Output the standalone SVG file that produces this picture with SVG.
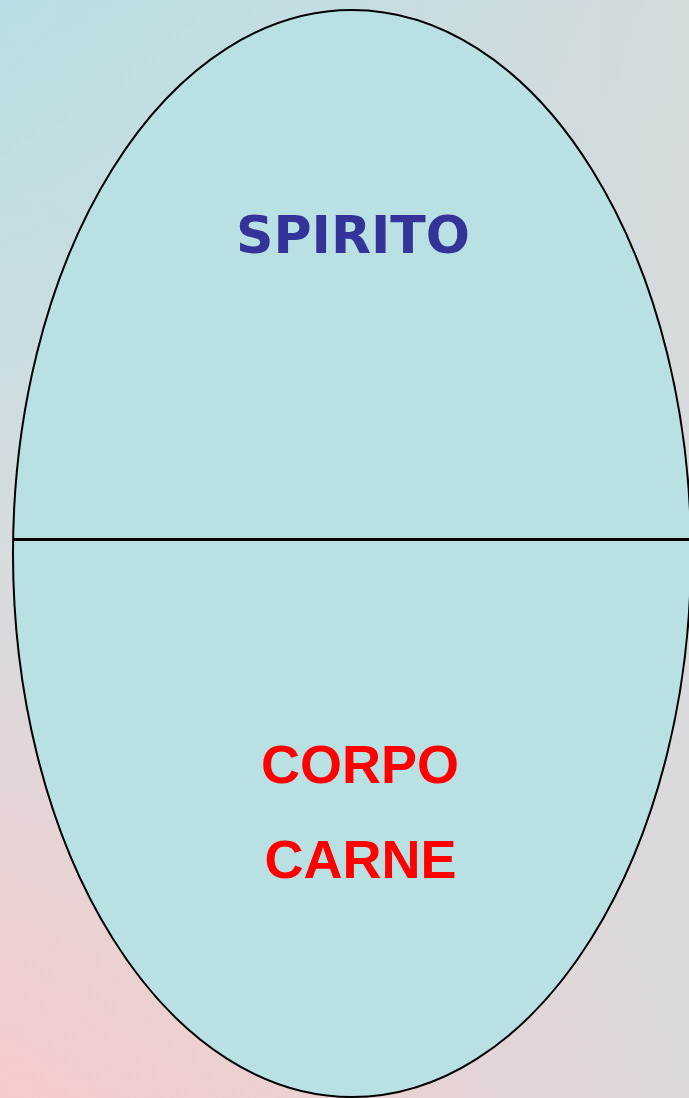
<svg xmlns="http://www.w3.org/2000/svg" width="689" height="1098" viewBox="0 0 689 1098">
  <defs>
    <linearGradient id="bgv" x1="0" y1="0" x2="0" y2="1098" gradientUnits="userSpaceOnUse">
      <stop offset="0" stop-color="#b8dfe3"/>
      <stop offset="0.5" stop-color="#d6dcdf"/>
      <stop offset="1" stop-color="#f7cbcb"/>
    </linearGradient>
    <linearGradient id="bgh" x1="0" y1="0" x2="689" y2="0" gradientUnits="userSpaceOnUse">
      <stop offset="0" stop-color="#d8dadc" stop-opacity="0"/>
      <stop offset="1" stop-color="#d8dadc" stop-opacity="0.85"/>
    </linearGradient>
  </defs>
  <style>
    .shape { fill: #b9e0e3; stroke: #000; stroke-width: 2; }
    .div { stroke: #000; stroke-width: 3; }
    .spirit { font-family: "Comic Sans MS", "DejaVu Sans", sans-serif; font-weight: bold; font-size: 52px; fill: #333399; text-anchor: middle; }
    .body { font-family: "Liberation Sans", Arial, sans-serif; font-weight: bold; font-size: 54px; fill: #ff0000; text-anchor: middle; }
  </style>
  <rect x="0" y="0" width="689" height="1098" fill="url(#bgv)"/>
  <rect x="0" y="0" width="689" height="1098" fill="url(#bgh)"/>
  <g id="egg">
    <ellipse class="shape" cx="352" cy="553.5" rx="339" ry="543.5"/>
  </g>
  <g id="connectors">
    <line class="div" x1="13" y1="539.5" x2="689" y2="539.5"/>
  </g>
  <g id="spirito">
    <text class="spirit" x="353" y="253" textLength="234" lengthAdjust="spacingAndGlyphs">SPIRITO</text>
  </g>
  <g id="corpo">
    <text class="body" x="360" y="783">CORPO</text>
  </g>
  <g id="carne">
    <text class="body" x="360.5" y="878">CARNE</text>
  </g>
</svg>
